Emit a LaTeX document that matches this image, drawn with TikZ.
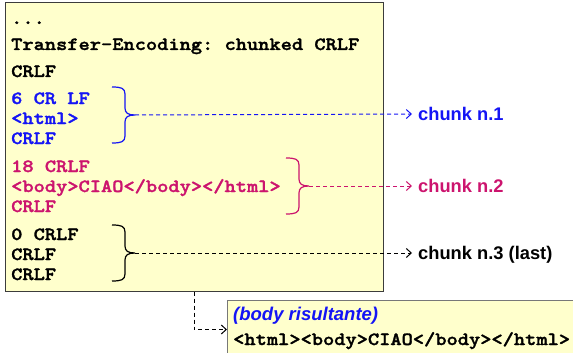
\documentclass[tikz,border=0pt]{standalone}
\usepackage{fontspec}
\setmainfont{Liberation Sans}
\setsansfont{Liberation Sans}
\newfontfamily\codefont{lmmonolt10-bold.otf}[FakeStretch=1.15,FakeBold=1.6]
\frenchspacing
\usetikzlibrary{arrows.meta}

\definecolor{msgbg}{RGB}{255,255,204}
\definecolor{boxline}{RGB}{60,60,60}
\definecolor{resline}{RGB}{120,120,120}
\definecolor{chblue}{RGB}{20,20,245}
\definecolor{chred}{RGB}{204,20,110}

\tikzset{
  pics/chbrace/.style={code={
    \draw (0,0) .. controls (9,0) and (13,1) .. (13,7) -- (13,21)
       .. controls (13,26) and (16,28) .. (23,28) coordinate (-tip)
       .. controls (16,28) and (13,30) .. (13,35) -- (13,49)
       .. controls (13,55) and (9,56) .. (0,56);
  }}
}

\begin{document}
\begin{tikzpicture}[x=1pt,y=-1pt,
  code/.style={anchor=base west,inner sep=0pt,
    font=\fontsize{18.6}{20}\codefont},
  lbl/.style={anchor=west,inner xsep=6pt,inner ysep=0pt,
    text height=13pt,text depth=0pt,
    font=\fontsize{18.3}{20}\selectfont\sffamily\bfseries},
  flow/.style={line width=1pt,dash pattern=on 4pt off 3pt,
    -{Straight Barb[length=5pt,width=9pt]}}]

\path[use as bounding box] (0,0) rectangle (573,353);
\clip (0,0) rectangle (573,353);

%%% the message %%%

  \node (msg) at (194,147) [draw=boxline,fill=msgbg,line width=1pt,
    minimum width=378pt,minimum height=288pt,inner sep=0pt] {};

  \node (l1) at (11,24) [code] {...};
  \node (l2) at (11,50) [code] {Transfer-Encoding: chunked CRLF};
  \node (l3) at (11,77) [code] {CRLF};

  \node (l4) at (11,104) [code,chblue] {6 CR LF};
  \node (l5) at (11,124) [code,chblue] {<html>};
  \node (l6) at (11,144) [code,chblue] {CRLF};

  \node (l7) at (11,172) [code,chred] {18 CRLF};
  \node (l8) at (11,192) [code,chred] {<body>CIAO</body></html>};
  \node (l9) at (11,212) [code,chred] {CRLF};

  \node (l10) at (11,240) [code] {0 CRLF};
  \node (l11) at (11,260) [code] {CRLF};
  \node (l12) at (11,280) [code] {CRLF};

%%% braces and chunk labels %%%

\pic [chblue,line width=1.2pt] (b1) at (112,87) {chbrace};
\pic [chred,line width=1.2pt] (b2) at (286,158) {chbrace};
\pic [black,line width=1.2pt] (b3) at (112,225) {chbrace};

  \node (n1) at (412,114) [lbl,chblue] {chunk n.1};
  \node (n2) at (412,186) [lbl,chred] {chunk n.2};
  \node (n3) at (412,253) [lbl] {chunk n.3 (last)};

\draw [flow,chblue] (b1-tip) -- (n1.west);
\draw [flow,chred] (b2-tip) -- (n2.west);
\draw [flow] (b3-tip) -- (n3.west);

%%% resulting body %%%

  \node (res) at (227,300) [anchor=north west,draw=resline,fill=msgbg,
    line width=1pt,minimum width=370pt,minimum height=58pt,inner sep=0pt] {};

  \node (r1) at (233,320) [anchor=base west,inner sep=0pt,chblue,
    font=\fontsize{18.5}{20}\selectfont\sffamily\bfseries\itshape] {(body risultante)};
  \node (r2) at (233,345) [code] {<html><body>CIAO</body></html>};

\draw [flow] (msg.south) |- (res.west);

\end{tikzpicture}
\end{document}
